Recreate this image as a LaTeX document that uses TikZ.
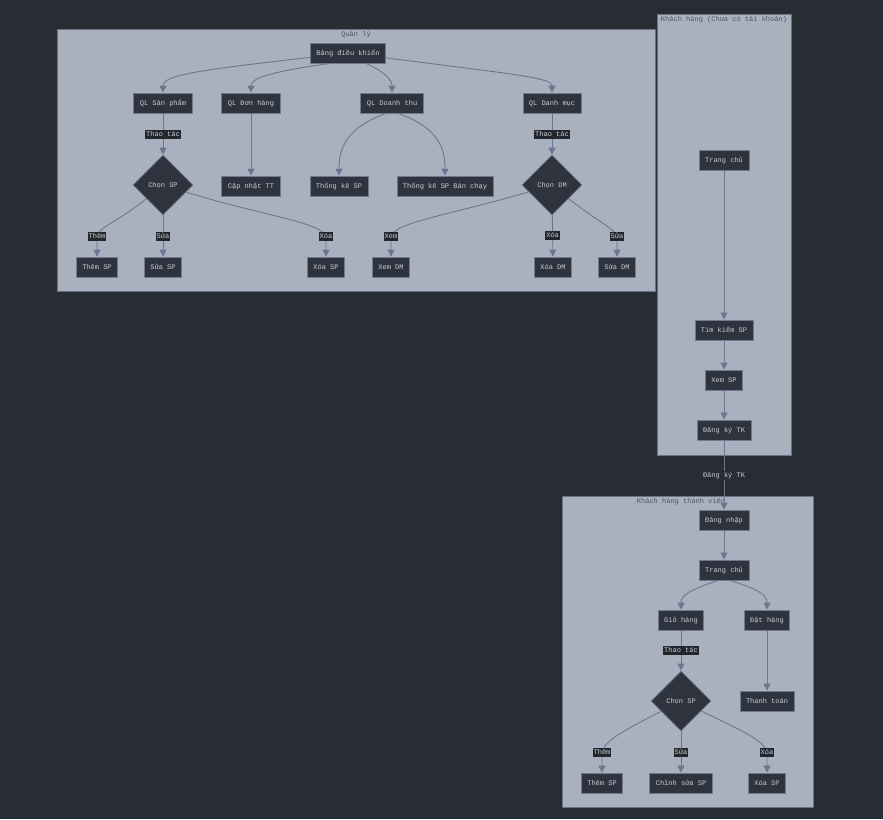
\documentclass[tikz,border=0pt]{standalone}
\usepackage{fontspec}
\setmonofont{Liberation Mono}
\usetikzlibrary{shapes.geometric,arrows.meta}
\definecolor{bgc}{HTML}{282C34}
\definecolor{clfill}{HTML}{A9B1BE}
\definecolor{clline}{HTML}{6A7384}
\definecolor{nfill}{HTML}{2F333D}
\definecolor{nline}{HTML}{6E7A8E}
\definecolor{ntext}{HTML}{C8CDD6}
\definecolor{ecol}{HTML}{6B7790}
\definecolor{ltitle}{HTML}{4E5565}
\definecolor{lfill}{HTML}{23262C}
\begin{document}
\begin{tikzpicture}[x=1pt,y=-1pt,
 font=\ttfamily\fontsize{7}{8}\selectfont,
 box/.style={draw=nline, fill=nfill, text=ntext, line width=0.8pt, minimum height=20pt, inner xsep=6pt, inner ysep=0pt, text height=5.5pt, text depth=1.5pt},
 dia/.style={diamond, draw=nline, fill=nfill, text=ntext, line width=0.8pt, minimum width=60pt, minimum height=60pt, inner sep=0pt, text height=5.5pt, text depth=1.5pt},
 cluster/.style={draw=clline, fill=clfill, line width=0.8pt},
 ctitle/.style={text=ltitle, inner sep=0pt, anchor=north},
 conn/.style={draw=ecol, line width=0.9pt, -{Triangle[length=7pt,width=7pt]}},
 elabel/.style={fill=lfill, text=ntext, inner sep=1pt, text height=5.5pt, text depth=1.5pt},
]
\fill[bgc] (0,0) rectangle (883,819);
\useasboundingbox (0,0) rectangle (883,819);

% clusters
\draw[cluster] (57,29) rectangle (655,291);
\node[ctitle] (t1) at (356,31) {Quản lý};
\draw[cluster] (657,14) rectangle (791,455);
\node[ctitle] (t2) at (724,16) {Khách hàng (Chưa có tài khoản)};
\draw[cluster] (562,496) rectangle (813,807);
\node[ctitle] (t3) at (681,498) {Khách hàng thành viên};

% Quan ly nodes
\node[box] (bdk) at (348,53) {Bảng điều khiển};
\node[box] (qlsp) at (163,103) {QL Sản phẩm};
\node[box] (qldh) at (251,103) {QL Đơn hàng};
\node[box] (qldt) at (392,103) {QL Doanh thu};
\node[box] (qldm) at (552,103) {QL Danh mục};
\node[dia] (chonsp) at (163,185) {Chọn SP};
\node[box] (capnhat) at (251,186) {Cập nhật TT};
\node[box] (thongke) at (339,186) {Thống kê SP};
\node[box] (thongkebc) at (445,186) {Thống kê SP Bán chạy};
\node[dia] (chondm) at (552,185) {Chọn DM};
\node[box] (themsp) at (97,267) {Thêm SP};
\node[box] (suasp) at (163,267) {Sửa SP};
\node[box] (xoasp) at (326,267) {Xóa SP};
\node[box] (xemdm) at (391,267) {Xem DM};
\node[box] (xoadm) at (553,267) {Xóa DM};
\node[box] (suadm) at (617,267) {Sửa DM};

% Khach hang chua co tai khoan
\node[box] (trangchu) at (724,160) {Trang chủ};
\node[box] (timkiem) at (724,330) {Tìm kiếm SP};
\node[box] (xemsp) at (724,380) {Xem SP};
\node[box] (dangky) at (724,430) {Đăng ký TK};

% Khach hang thanh vien
\node[box] (dangnhap) at (724,520) {Đăng nhập};
\node[box] (trangchu2) at (724,570) {Trang chủ};
\node[box] (giohang) at (681,620) {Giỏ hàng};
\node[box] (dathang) at (767,620) {Đặt hàng};
\node[dia] (chonsp2) at (681,701) {Chọn SP};
\node[box] (thanhtoan) at (767,701) {Thanh toán};
\node[box] (them2) at (602,783) {Thêm SP};
\node[box] (chinhsua) at (681,783) {Chỉnh sửa SP};
\node[box] (xoa2) at (767,783) {Xóa SP};

% edges top
\draw[conn] (bdk) .. controls (200,70) and (163,75) .. (qlsp);
\draw[conn] (bdk.210) .. controls (270,72) and (251,78) .. (qldh);
\draw[conn] (bdk.-30) .. controls (385,72) and (392,80) .. (qldt);
\draw[conn] (bdk) .. controls (520,75) and (552,78) .. (qldm);
\draw[conn] (qlsp) -- node[elabel]{Thao tác} (chonsp);
\draw[conn] (qldh) -- (capnhat);
\draw[conn] (qldt.-120) .. controls (345,128) and (339,150) .. (thongke);
\draw[conn] (qldt.-60) .. controls (440,128) and (445,150) .. (thongkebc);
\draw[conn] (qldm) -- node[elabel]{Thao tác} (chondm);

\draw[conn] (chonsp) .. controls (118,222) and (100,226) .. (97,236) node[elabel]{Thêm} -- (themsp);
\draw[conn] (chonsp) -- node[elabel]{Sửa} (suasp);
\draw[conn] (chonsp) .. controls (260,215) and (320,222) .. (326,236) node[elabel]{Xóa} -- (xoasp);
\draw[conn] (chondm) .. controls (450,215) and (396,222) .. (391,236) node[elabel]{Xem} -- (xemdm);
\draw[conn] (chondm) -- node[elabel]{Xóa} (xoadm);
\draw[conn] (chondm) .. controls (595,220) and (614,228) .. (617,236) node[elabel]{Sửa} -- (suadm);

% right cluster
\draw[conn] (trangchu) -- (timkiem);
\draw[conn] (timkiem) -- (xemsp);
\draw[conn] (xemsp) -- (dangky);
\draw[conn] (dangky) -- node[elabel, fill=bgc]{Đăng ký TK} (dangnhap);

% bottom cluster
\draw[conn] (dangnhap) -- (trangchu2);
\draw[conn] (trangchu2.-120) .. controls (690,590) and (681,595) .. (giohang);
\draw[conn] (trangchu2.-60) .. controls (760,590) and (767,595) .. (dathang);
\draw[conn] (giohang) -- node[elabel]{Thao tác} (chonsp2);
\draw[conn] (dathang) -- (thanhtoan);
\draw[conn] (chonsp2) .. controls (625,730) and (605,740) .. (602,752) node[elabel]{Thêm} -- (them2);
\draw[conn] (chonsp2) -- node[elabel]{Sửa} (chinhsua);
\draw[conn] (chonsp2) .. controls (740,730) and (764,740) .. (767,752) node[elabel]{Xóa} -- (xoa2);
\end{tikzpicture}
\end{document}
